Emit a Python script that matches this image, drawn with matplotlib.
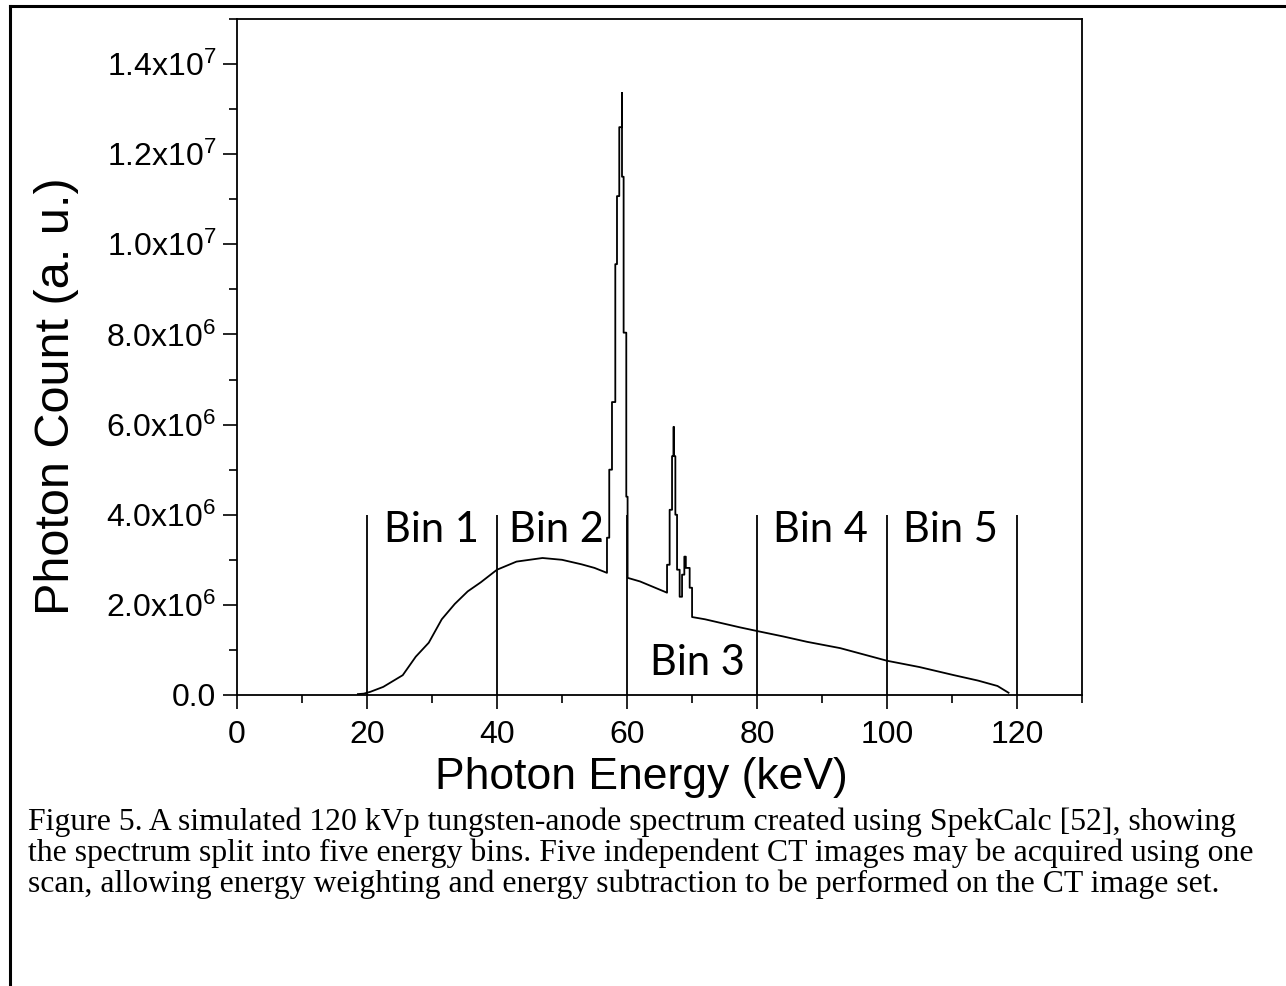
import numpy as np
import matplotlib
matplotlib.use("Agg")
from matplotlib import pyplot as plt
from matplotlib.ticker import MultipleLocator, FuncFormatter

# spectrum (keV, photon count in units of 1e6)
energy = [18.6, 19.5, 20.5, 22.5, 25.5, 27.5, 29.5, 31.5, 33.5, 35.5, 37.5, 40.0,
          43.0, 47.0, 50.0, 53.0, 55.0,
          56.92, 56.92, 57.27, 57.27, 57.69, 57.69, 58.20, 58.20, 58.46, 58.46,
          58.81, 58.81, 59.23, 59.23, 59.23, 59.48, 59.48, 59.89, 59.89, 60.09, 60.09,
          62.0, 64.0,
          66.16, 66.16, 66.56, 66.56, 66.93, 66.93, 67.18, 67.18, 67.18, 67.44, 67.44,
          67.70, 67.70, 68.10, 68.10, 68.47, 68.47, 68.82, 68.82, 69.05, 69.05,
          69.64, 69.64, 70.01, 70.01,
          72.0, 75.0, 77.4, 80.0, 84.0, 87.7, 92.8, 100.0, 105.0, 110.3, 114.0,
          117.0, 118.7]
counts = [0.02, 0.03, 0.07, 0.18, 0.44, 0.85, 1.16, 1.68, 2.02, 2.30, 2.50, 2.78,
          2.96, 3.04, 3.00, 2.90, 2.82,
          2.71, 3.49, 3.49, 5.00, 5.00, 6.50, 6.50, 9.56, 9.56, 11.07,
          11.07, 12.60, 12.60, 13.36, 11.50, 11.50, 8.04, 8.04, 4.40, 4.40, 2.60,
          2.52, 2.40,
          2.27, 2.89, 2.89, 4.11, 4.11, 5.30, 5.30, 5.95, 5.30, 5.30, 4.00,
          4.00, 2.78, 2.78, 2.18, 2.18, 2.67, 2.67, 3.07, 3.07, 2.82,
          2.82, 2.38, 2.38, 1.73,
          1.68, 1.58, 1.50, 1.42, 1.30, 1.18, 1.04, 0.76, 0.62, 0.44, 0.32,
          0.20, 0.05]

bin_edges = [20, 40, 60, 80, 100, 120]
bin_top = 4.0e6
bin_names = ["Bin 1", "Bin 2", "Bin 3", "Bin 4", "Bin 5"]
bin_label_x = [29.9, 49.1, 70.8, 89.8, 109.8]
bin_label_y = [3.67e6, 3.67e6, 0.71e6, 3.67e6, 3.67e6]

caption = [
    "Figure 5. A simulated 120 kVp tungsten-anode spectrum created using SpekCalc [52], showing",
    "the spectrum split into five energy bins. Five independent CT images may be acquired using one",
    "scan, allowing energy weighting and energy subtraction to be performed on the CT image set.",
]

plt.rcParams['font.family'] = 'Liberation Sans'
plt.rcParams['mathtext.fontset'] = 'custom'
plt.rcParams['mathtext.rm'] = 'Liberation Sans'
plt.rcParams['mathtext.it'] = 'Liberation Sans'
plt.rcParams['mathtext.default'] = 'rm'

fig = plt.figure(figsize=(12.86, 9.86), dpi=100)
ax = fig.add_axes([237/1286, 1-695/986, (1082-237)/1286, (695-19)/986])

ax.plot(energy, np.array(counts)*1e6, color='black', lw=1.3)
ax.vlines(bin_edges, 0, bin_top, color='black', lw=1.3)
for name, bx, by in zip(bin_names, bin_label_x, bin_label_y):
    ax.text(bx, by, name, ha='center', va='center', fontsize=30, family='Lato')

ax.set_xlim(0, 130)
ax.set_ylim(0, 1.5e7)
ax.xaxis.set_major_locator(MultipleLocator(20))
ax.xaxis.set_minor_locator(MultipleLocator(10))
ax.yaxis.set_major_locator(MultipleLocator(2e6))
ax.yaxis.set_minor_locator(MultipleLocator(1e6))


def sci_fmt(v, pos):
    if v == 0:
        return "0.0"
    e = int(np.floor(np.log10(abs(v)) + 1e-9))
    m = v / 10**e
    return f"{m:.1f}x10$^{{{e}}}$"


ax.yaxis.set_major_formatter(FuncFormatter(sci_fmt))
ax.tick_params(which='both', direction='out', width=1.2, labelsize=23, pad=5)
ax.tick_params(axis='x', which='both', pad=8)
ax.tick_params(which='major', length=10)
ax.tick_params(which='minor', length=6)
for s in ax.spines.values():
    s.set_linewidth(1.3)

ax.set_xlabel("Photon Energy (keV)", fontsize=32)
ax.set_ylabel("Photon Count (a. u.)", fontsize=35)
ax.xaxis.set_label_coords(0.479, 1-(778-19)/676, transform=ax.transAxes)
ax.xaxis.label.set_va('center')
ax.yaxis.set_label_coords((57-237)/845, (695-396)/676, transform=ax.transAxes)
ax.yaxis.label.set_va('center')

for i, line in enumerate(caption):
    fig.text(28/1286, 1-(822+31*i)/986, line, fontsize=22.9, family='Liberation Serif',
             va='center', ha='left')

# frame lines of the cropped figure
fig.add_artist(plt.Line2D([10/1286, 10/1286], [0, 1-6/986], color='black', lw=2.2,
                          transform=fig.transFigure))
fig.add_artist(plt.Line2D([10/1286, 1], [1-6/986, 1-6/986], color='black', lw=2.2,
                          transform=fig.transFigure))

fig.savefig("out.png", dpi=100)
